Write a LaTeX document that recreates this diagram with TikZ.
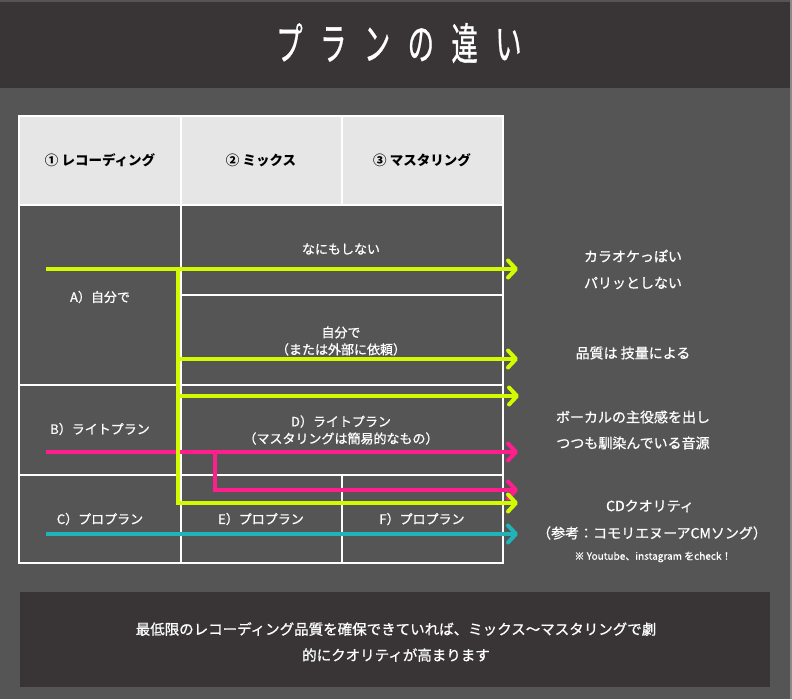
\documentclass[tikz,border=0pt]{standalone}
\usepackage{fontspec}
\setmainfont{Noto Sans CJK JP}
\newfontfamily\jpmed{Noto Sans CJK JP}[FakeBold=0.8]
\usetikzlibrary{arrows.meta}
\definecolor{bgc}{HTML}{555555}
\definecolor{barc}{HTML}{393536}
\definecolor{headc}{HTML}{E6E6E6}
\definecolor{yelc}{RGB}{210,250,0}
\definecolor{pinkc}{RGB}{255,30,140}
\definecolor{tealc}{RGB}{32,180,184}
\definecolor{edgec}{HTML}{8A8A8A}
\tikzset{
  grid/.style={draw=white,line width=1.1pt},
  flow/.style={line width=4pt,-{Straight Barb[length=8pt,width=17pt,line cap=round,line join=round]}},
  wtxt/.style={text=white,font=\jpmed\fontsize{13}{17}\selectfont,align=center,inner sep=0pt},
  rtxt/.style={text=white,font=\jpmed\fontsize{14}{18}\selectfont,align=center,inner sep=0pt},
  htxt/.style={text=black,font=\bfseries\fontsize{13.5}{16}\selectfont,inner sep=0pt},
}
\begin{document}
\begin{tikzpicture}[x=1pt,y=-1pt]
\useasboundingbox (0,0) rectangle (792,699);
\fill[bgc] (0,0) rectangle (792,699);
\fill[barc] (0,2) rectangle (790,88);
\fill[edgec] (790,0) rectangle (792,699);
% title
\node[text=white,inner sep=0pt] (title) at (399,43)
  {\scalebox{0.6}[1]{\jpmed\fontsize{44}{44}\selectfont プ\hspace{29pt}ラ\hspace{29pt}ン\hspace{29pt}の\hspace{29pt}違\hspace{29pt}い}};
% table
\fill[headc] (19,116) rectangle (503,205);
\draw[grid] (19,116) rectangle (503,563);
\draw[grid] (181,116) -- (181,563);
\draw[grid] (342,116) -- (342,205);
\draw[grid] (342,475) -- (342,563);
\draw[grid] (19,205) -- (503,205);
\draw[grid] (181,295) -- (503,295);
\draw[grid] (19,385) -- (503,385);
\draw[grid] (19,475) -- (503,475);
% header
\node[htxt] (h1) at (100,160) {① レコーディング};
\node[htxt] (h2) at (261,160) {② ミックス};
\node[htxt] (h3) at (422,160) {③ マスタリング};
% cells
\node[wtxt] (na) at (341,249) {なにもしない};
\node[wtxt] (ra) at (100,297) {A）自分で};
\node[wtxt] (jb) at (341,341) {自分で\\（または外部に依頼）};
\node[wtxt] (rb) at (100,429) {B）ライトプラン};
\node[wtxt] (db) at (341,430) {D）ライトプラン\\（マスタリングは簡易的なもの）};
\node[wtxt] (rc) at (100,519) {C）プロプラン};
\node[wtxt] (ec) at (261,519) {E）プロプラン};
\node[wtxt] (fc) at (422,519) {F）プロプラン};
% right texts
\node[rtxt] (k1) at (633,256) {カラオケっぽい};
\node[rtxt] (k2) at (633,283) {パリッとしない};
\node[rtxt] (k3) at (633,353) {品質は 技量による};
\node[rtxt] (k4) at (633,417) {ボーカルの主役感を出し};
\node[rtxt] (k5) at (633,443) {つつも馴染んでいる音源};
\node[rtxt] (k6) at (650,506) {CDクオリティ};
\node[rtxt] (k7) at (652,533) {（参考：コモリエヌーアCMソング）};
\node[text=white,font=\jpmed\fontsize{10}{12}\selectfont,inner sep=0pt] (k8) at (653,557) {※ Youtube、instagram をcheck！};
% coordinates
\coordinate (pa0) at (46,452);
\coordinate (pe1) at (518,452);
\coordinate (pj) at (215,452);
\coordinate (pb) at (215,490);
\coordinate (pe2) at (518,490);
\coordinate (ya0) at (46,269);
\coordinate (yj) at (178,269);
\coordinate (ye1) at (518,269);
\coordinate (y2) at (178,359);
\coordinate (ye2) at (518,359);
\coordinate (y3) at (178,396);
\coordinate (ye3) at (519,396);
\coordinate (y4) at (178,503);
\coordinate (ye4) at (518,503);
\coordinate (ta0) at (46,534);
\coordinate (te) at (518,534);
% pink
\draw[flow,pinkc] (pa0) -- (pe1);
\draw[flow,pinkc] (pj) -- (pb) -- (pe2);
% yellow
\draw[flow,yelc] (ya0) -- (ye1);
\draw[flow,yelc] (y2) -- (ye2);
\draw[flow,yelc] (y3) -- (ye3);
\draw[flow,yelc] (yj) -- (y4) -- (ye4);
% teal
\draw[flow,tealc] (ta0) -- (te);
% bottom box
\fill[barc] (20,592) rectangle (770,687);
\node[text=white,font=\jpmed\fontsize{14.5}{26}\selectfont,align=center,inner sep=0pt] (note) at (396,642)
  {最低限のレコーディング品質を確保できていれば、ミックス〜マスタリングで劇\\的にクオリティが高まります};
\end{tikzpicture}
\end{document}
